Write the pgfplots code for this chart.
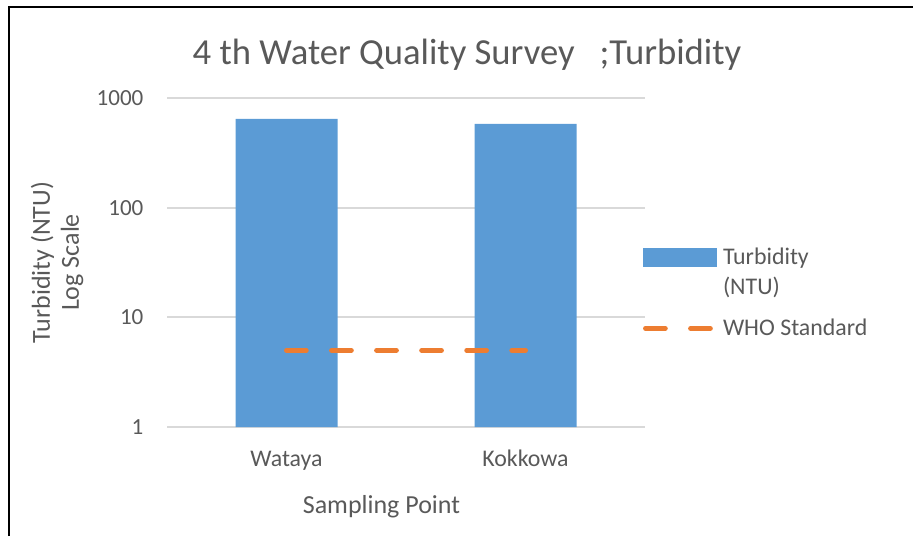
\documentclass[border=0pt]{standalone}
\usepackage{fontspec}
\setmainfont{Carlito}
\usepackage{pgfplots}
\pgfplotsset{compat=1.18}
\definecolor{barblue}{HTML}{5B9BD5}
\definecolor{whoorange}{HTML}{ED7D31}
\definecolor{txt}{HTML}{595959}
\definecolor{gridc}{HTML}{D9D9D9}
\begin{document}
\begin{tikzpicture}[x=1pt,y=1pt]
\path[use as bounding box] (0,0) rectangle (684.75,402);
\begin{axis}[
  at={(125.25pt,81.75pt)}, anchor=south west,
  scale only axis, width=358.5pt, height=246.75pt,
  xmin=-0.5, xmax=1.5, ymode=log, ymin=1, ymax=1000,
  ytick={1,10,100,1000}, yticklabels={1,10,100,1000},
  xtick={0,1}, xticklabels={Wataya,Kokkowa},
  ymajorgrids, xmajorgrids=false,
  major grid style={gridc, line width=1.5pt},
  axis line style={draw=none},
  major tick length=0pt, minor tick length=0pt,
  tick label style={font=\fontsize{17.3}{20}\selectfont, text=txt},
  yticklabel style={anchor=east, inner sep=0pt, xshift=-17.5pt},
  xticklabel style={anchor=base, inner sep=0pt, yshift=-29.5pt, font=\fontsize{17.9}{20}\selectfont},
  title={4 th Water Quality Survey\ \ \ ;Turbidity},
  title style={at={(axis description cs:0.6276,1.106)}, anchor=center, inner sep=0pt,
    font=\fontsize{27.5}{30}\selectfont, text=txt},
  xlabel={Sampling Point},
  xlabel style={at={(axis description cs:0.4487,-0.243)}, anchor=center, inner sep=0pt,
    font=\fontsize{19.5}{22}\selectfont, text=txt},
  ylabel={Turbidity (NTU)\\Log Scale},
  ylabel style={at={(axis description cs:-0.2301,0.5)}, anchor=center, inner sep=0pt,
    align=center, font=\fontsize{19.5}{21.75}\selectfont, text=txt},
  legend style={at={(rel axis cs:1,0.547)}, anchor=north west, xshift=-1.5pt,
    draw=none, fill=none, inner sep=0pt, outer sep=0pt,
    font=\fontsize{17.9}{20}\selectfont, text=txt,
    nodes={inner sep=0pt, text height=13pt, text depth=4pt}, cells={anchor=base west},
    column sep=4.5pt, row sep=5.5pt},
]
\addplot[ybar, bar width=76.5pt, fill=barblue, draw=none,
  legend image code/.code={\path[draw=none,fill=none] (0pt,-4pt) rectangle (55.5pt,13pt);
    \fill[barblue] (0pt,-1.6pt) rectangle (55.5pt,12.6pt);}]
  coordinates {(0,645) (1,580)};
\addlegendentry{Turbidity}
\addlegendimage{legend image code/.code={\path[draw=none,fill=none] (0pt,-4pt) rectangle (55.5pt,13pt);}}
\addlegendentry{(NTU)}
\addplot[whoorange, line width=3.75pt, line cap=round,
  dash pattern=on 14.8pt off 19pt,
  legend image code/.code={\path[draw=none,fill=none] (0pt,-4pt) rectangle (55.5pt,21.5pt);
    \draw[whoorange, line width=3.75pt, line cap=round, dash pattern=on 14.8pt off 19pt] (1.9pt,5.5pt) -- (53.6pt,5.5pt);}]
  coordinates {(0,5) (1,5)};
\addlegendentry{WHO Standard}
\end{axis}
\draw[black, line width=2pt] (6.75,0) -- (6.75,396.75) -- (684.75,396.75);
\end{tikzpicture}
\end{document}
